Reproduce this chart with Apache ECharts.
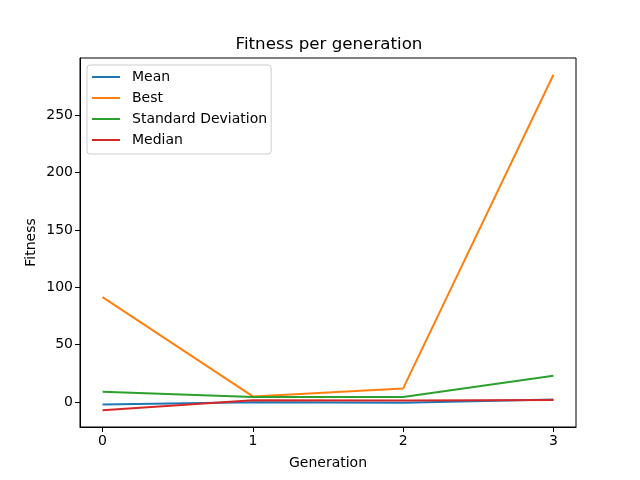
<!DOCTYPE html>
<html>
<head>
<meta charset="utf-8">
<script src="https://cdn.jsdelivr.net/npm/echarts@6/dist/echarts.min.js"></script>
<style>
  html, body { margin: 0; padding: 0; background: #fff; }
  #chart { width: 640px; height: 480px; }
</style>
</head>
<body>
<div id="chart"></div>
<script>
// generations and series values
const generations = [0, 1, 2, 3]
const meanVals = [-2, 0, -0.5, 2.3]
const bestVals = [91.5, 5, 12, 285]
const stdVals = [9, 4.5, 4.5, 23]
const medianVals = [-7, 1.7, 1.5, 2]
const xTicks = [0, 1, 2, 3]
const yTicks = [0, 50, 100, 150, 200, 250]

const seriesList = [
    { name: 'Mean', data: meanVals, color: '#1f77b4' },
    { name: 'Best', data: bestVals, color: '#ff7f0e' },
    { name: 'Standard Deviation', data: stdVals, color: '#2ca02c' },
    { name: 'Median', data: medianVals, color: '#d62728' }
]

const font = 'DejaVu Sans'
const chart = echarts.init(document.getElementById('chart'))

const option = {
    animation: false,
    backgroundColor: '#fff',
    title: {
        text: 'Fitness per generation',
        left: 324,
        top: 31,
        textAlign: 'center',
        textStyle: { fontFamily: font, fontSize: 16.7, fontWeight: 'normal', color: '#000' }
    },
    legend: {
        orient: 'vertical',
        left: 87,
        top: 65,
        padding: [5, 4, 7, 5],
        itemGap: 7,
        itemWidth: 28,
        itemHeight: 2,
        icon: 'rect',
        backgroundColor: 'rgba(255,255,255,0.8)',
        borderColor: '#cccccc',
        borderWidth: 1,
        borderRadius: 3,
        textStyle: { fontFamily: font, fontSize: 14, color: '#000', padding: [0, 0, 0, 7] },
        data: seriesList.map(s => s.name)
    },
    grid: {
        left: 80,
        right: 64,
        top: 58,
        bottom: 53,
        show: true,
        borderColor: '#000',
        borderWidth: 1
    },
    xAxis: {
        type: 'value',
        min: -0.15,
        max: 3.15,
        name: 'Generation',
        nameLocation: 'middle',
        nameGap: 29,
        nameTextStyle: { fontFamily: font, fontSize: 14, color: '#000' },
        axisLine: { onZero: false, lineStyle: { color: '#000' } },
        axisTick: { length: 5, customValues: xTicks, lineStyle: { color: '#000' } },
        axisLabel: { customValues: xTicks, fontFamily: font, fontSize: 14, color: '#000', margin: 7 },
        splitLine: { show: false }
    },
    yAxis: {
        type: 'value',
        min: -21.6,
        max: 299.6,
        name: 'Fitness',
        nameLocation: 'middle',
        nameGap: 42,
        nameMoveOverlap: false,
        nameTextStyle: { fontFamily: font, fontSize: 14, color: '#000' },
        axisLine: { show: true, onZero: false, lineStyle: { color: '#000' } },
        axisTick: { show: true, length: 5, customValues: yTicks, lineStyle: { color: '#000' } },
        axisLabel: { customValues: yTicks, fontFamily: font, fontSize: 14, color: '#000', margin: 7 },
        splitLine: { show: false }
    },
    series: seriesList.map(s => ({
        name: s.name,
        type: 'line',
        data: generations.map((g, i) => [g, s.data[i]]),
        showSymbol: false,
        symbol: 'none',
        lineStyle: { color: s.color, width: 2 },
        itemStyle: { color: s.color }
    }))
}

chart.setOption(option)
</script>
</body>
</html>
